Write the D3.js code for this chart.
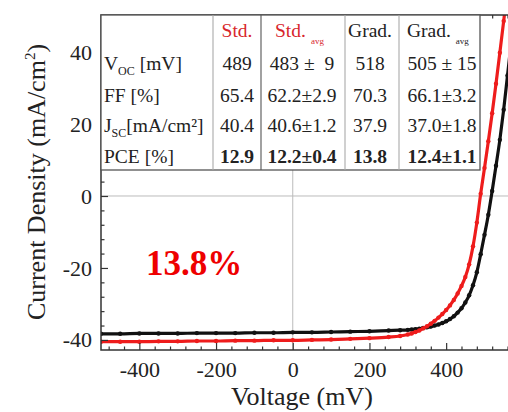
<!DOCTYPE html>
<html><head><meta charset="utf-8">
<script src="https://cdn.jsdelivr.net/npm/d3@7"></script>
<style>
html,body{margin:0;padding:0;background:#fff;overflow:hidden}
svg text{font-family:"Liberation Serif","DejaVu Serif",serif !important}
</style></head>
<body><svg id="c" width="508" height="412" font-family="Liberation Serif, DejaVu Serif, serif"></svg>
<script>
// ---- data ----
const voltStd = [-500,-450,-400,-350,-300,-250,-200,-150,-100,-50,0,50,100,150,200,250,280,
  300,310,320,330,340,350,360,370,380,390,400,410,420,430,440,450,460,470,480,490,500,510,520,530,540,550,560];
const jStd = [-40.5,-40.5,-40.5,-40.4,-40.4,-40.3,-40.3,-40.2,-40.2,-40.1,-40.1,-40.0,-39.9,-39.7,-39.5,-39.2,-38.9,
  -38.5,-38.2,-37.8,-37.4,-36.8,-36.2,-35.5,-34.7,-33.8,-32.8,-31.7,-30.4,-28.9,-27.1,-25.0,-22.5,-19.0,-14.0,-7.4,0.6,7.8,15.2,23.0,31.2,39.8,48.6,57.5];
const voltGrad = [-500,-450,-400,-350,-300,-250,-200,-150,-100,-50,0,50,100,150,200,250,280,
  300,310,320,330,340,350,360,370,380,390,400,410,420,430,440,450,460,470,480,490,500,510,520,530,540,550,560,570,580];
const jGrad = [-38.3,-38.3,-38.2,-38.2,-38.2,-38.1,-38.1,-38.1,-38.0,-38.0,-37.9,-37.9,-37.8,-37.7,-37.6,-37.4,-37.3,
  -37.2,-37.1,-37.0,-36.9,-36.7,-36.5,-36.3,-36.0,-35.7,-35.3,-34.8,-34.2,-33.4,-32.4,-31.2,-29.6,-27.6,-24.8,-21.2,-16.2,-10.8,-5.2,1.4,8.4,15.6,24.0,33.5,43.0,52.5];

const xTicks = [-400,-200,0,200,400];
const xMinor = [-480,-440,-360,-320,-280,-240,-160,-120,-80,-40,40,80,120,160,240,280,320,360,440,480,520,560];
const yTicks = [-40,-20,0,20,40];
const yMinor = [-36,-32,-28,-24,-16,-12,-8,-4,4,8,12,16,24,28,32,36,44,48];

const colHeaders = ["Std.","Std.","Grad.","Grad."];
const colHeaderSub = ["","avg","","avg"];
const colHeaderRed = [true,true,false,false];
const rowLabels = [["V","OC"," [mV]"],["FF [%]","",""],["J","SC","[mA/cm²]"],["PCE [%]","",""]];
const cellValues = [
  ["489","483 ±  9","518","505 ± 15"],
  ["65.4","62.2±2.9","70.3","66.1±3.2"],
  ["40.4","40.6±1.2","37.9","37.0±1.8"],
  ["12.9","12.2±0.4","13.8","12.4±1.1"]
];
const boldRow = [false,false,false,true];
const highlight = "13.8%";

// ---- layout ----
const FONT = "'Liberation Serif','DejaVu Serif',serif";
const svg = d3.select("#c");
const L = 101, T = 15, B = 350;
const x = d3.scaleLinear().domain([-500,600]).range([L, L + 1100*0.3835]);
const y = d3.scaleLinear().domain([-42.8, 50.3]).range([B, T]);
const R = x(600);
const RED = "#ee1c1c", BLK = "#111";

svg.append("defs").append("clipPath").attr("id","clip")
  .append("rect").attr("x",L).attr("y",T).attr("width",R-L).attr("height",B-T);

// grid lines at zero
svg.append("line").attr("x1",L).attr("x2",R).attr("y1",y(0)).attr("y2",y(0)).attr("stroke","#bbb").attr("stroke-width",1);
svg.append("line").attr("x1",x(0)).attr("x2",x(0)).attr("y1",T).attr("y2",B).attr("stroke","#bbb").attr("stroke-width",1);

// curves
function drawSeries(vs, js, color){
  const pts = vs.map((v,i)=>[v,js[i]]);
  const g = svg.append("g").attr("clip-path","url(#clip)");
  g.append("path").datum(pts)
    .attr("d", d3.line().x(d=>x(d[0])).y(d=>y(d[1])).curve(d3.curveMonotoneX))
    .attr("fill","none").attr("stroke",color).attr("stroke-width",3.2);
  g.selectAll("circle").data(pts).join("circle")
    .attr("cx",d=>x(d[0])).attr("cy",d=>y(d[1])).attr("r",2.2).attr("fill",color);
}
drawSeries(voltGrad, jGrad, BLK);
drawSeries(voltStd, jStd, RED);

// axes
const axCol = "#333";
function styleAxis(g){ g.attr("font-family",FONT); g.select(".domain").remove(); g.selectAll("line").attr("stroke",axCol).attr("stroke-width",1.2);
  g.selectAll("text").attr("fill","#222").style("font-size","22px").style("font-family",FONT); }
svg.append("g").attr("transform",`translate(0,${B})`)
  .call(d3.axisBottom(x).tickValues(xTicks).tickFormat(d=>String(d)).tickSizeInner(-7).tickSizeOuter(0).tickPadding(11)).call(styleAxis);
svg.append("g").attr("transform",`translate(0,${B})`)
  .call(d3.axisBottom(x).tickValues(xMinor).tickFormat("").tickSizeInner(-3.5).tickSizeOuter(0)).call(styleAxis);
svg.append("g").attr("transform",`translate(0,${T})`)
  .call(d3.axisTop(x).tickValues(xTicks).tickFormat("").tickSizeInner(-7).tickSizeOuter(0)).call(styleAxis);
svg.append("g").attr("transform",`translate(0,${T})`)
  .call(d3.axisTop(x).tickValues(xMinor).tickFormat("").tickSizeInner(-3.5).tickSizeOuter(0)).call(styleAxis);
svg.append("g").attr("transform",`translate(${L},0)`)
  .call(d3.axisLeft(y).tickValues(yTicks).tickFormat(d=>String(d)).tickSizeInner(-7).tickSizeOuter(0).tickPadding(9)).call(styleAxis);
svg.append("g").attr("transform",`translate(${L},0)`)
  .call(d3.axisLeft(y).tickValues(yMinor).tickFormat("").tickSizeInner(-3.5).tickSizeOuter(0)).call(styleAxis);

// frame
svg.append("rect").attr("x",L).attr("y",T).attr("width",R-L).attr("height",B-T)
  .attr("fill","none").attr("stroke",axCol).attr("stroke-width",1.5);

// table
const tb = {x0:L, x1:480, y0:T, y1:170};
const colLines = [213,261,345,399];
const colCenters = [237,302,370,442];
const rowBase = [70,101.5,131.5,162.5];
const tg = svg.append("g").attr("font-family",FONT);
tg.append("rect").attr("x",tb.x0).attr("y",tb.y0).attr("width",tb.x1-tb.x0).attr("height",tb.y1-tb.y0)
  .attr("fill","#fff").attr("stroke","#555").attr("stroke-width",1.3);
colLines.forEach((cx,i)=>tg.append("line").attr("x1",cx).attr("x2",cx).attr("y1",tb.y0).attr("y2",tb.y1)
  .attr("stroke", i===1?"#555":"#aaa").attr("stroke-width",1.1));

colHeaders.forEach((h,i)=>{
  const t = tg.append("text").attr("y",37).style("font-size","19.5px").style("font-family",FONT)
    .attr("fill", colHeaderRed[i] ? "#d8262c" : "#222");
  if(colHeaderSub[i]){
    t.attr("x", i===1?275:407).attr("text-anchor","start");
    t.append("tspan").text(h);
    t.append("tspan").text(colHeaderSub[i]).attr("dx",5).attr("dy",7).style("font-size","9px");
  } else {
    t.attr("x",colCenters[i]).attr("text-anchor","middle").text(h);
  }
});
rowLabels.forEach((r,i)=>{
  const t = tg.append("text").attr("x",104).attr("y",rowBase[i]).style("font-size","19.5px").style("font-family",FONT).attr("fill","#222");
  t.append("tspan").text(r[0]);
  if(r[1]){
    t.append("tspan").text(r[1]).attr("dy",5).style("font-size","12px");
    t.append("tspan").text(r[2]).attr("dy",-5);
  }
});
cellValues.forEach((row,i)=>row.forEach((v,j)=>{
  tg.append("text").attr("x",colCenters[j]).attr("y",rowBase[i]).attr("text-anchor","middle")
    .style("font-size","19.5px").style("font-family",FONT).style("font-weight",boldRow[i]?"bold":"normal").style("white-space","pre")
    .attr("fill","#222").text(v);
}));

// highlight label
svg.append("text").attr("x",194).attr("y",275).attr("text-anchor","middle").style("font-family",FONT)
  .style("font-size","35px").style("font-weight","bold").attr("fill","#ee0000").text(highlight);

// axis titles
svg.append("text").attr("x",302).attr("y",405).attr("text-anchor","middle").style("font-family",FONT)
  .style("font-size","26px").attr("fill","#222").text("Voltage (mV)");
const yt = svg.append("text").attr("transform","translate(45,182) rotate(-90)").attr("text-anchor","middle")
  .style("font-size","26px").style("font-family",FONT).attr("fill","#222");
yt.append("tspan").text("Current Density (mA/cm");
yt.append("tspan").text("2").attr("dy",-10).style("font-size","15px");
yt.append("tspan").text(")").attr("dy",10);
</script></body></html>
